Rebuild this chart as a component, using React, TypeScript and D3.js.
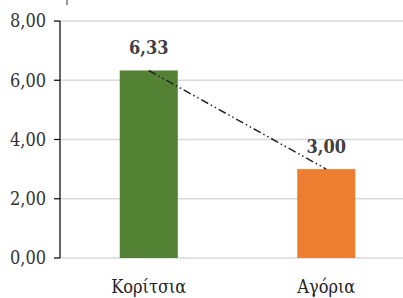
import React from 'react';
import * as d3 from 'd3';

const categories = ['Κορίτσια', 'Αγόρια'];
const values = [6.33, 3.0];
const barColors = ['#548235', '#ED7D31'];
const yTicks = [0, 2, 4, 6, 8];

const W = 403, H = 298;
const margin = { top: 21, left: 60, bottom: 40 };
const fmt = (v: number) => d3.format('.2f')(v).replace('.', ',');
const serif = { fontFamily: '"DejaVu Serif Condensed", "DejaVu Serif", serif', fontStretch: 'condensed' };

export default function App() {
  const x = d3.scaleBand<string>().domain(categories).range([margin.left, 415]).paddingInner(0.673).paddingOuter(0.3365);
  const y = d3.scaleLinear().domain([0, 8]).range([H - margin.bottom, margin.top]);
  const cx = (c: string) => (x(c) as number) + x.bandwidth() / 2;

  const line = d3.line<number>()
    .x((_, i) => cx(categories[i]))
    .y(d => y(d));

  return (
    <svg width={W} height={H} style={{ position: 'absolute', left: 0, top: 0, background: '#fff' }}>
      {yTicks.map(t => (
        <g key={t}>
          <line x1={margin.left} x2={W} y1={y(t)} y2={y(t)} stroke="#d9d9d9" strokeWidth={1.5} />
          <line x1={54} x2={margin.left} y1={y(t)} y2={y(t)} stroke="#000" strokeWidth={1.2} />
          <text x={46} y={y(t)} dy="0.36em" textAnchor="end" fontSize={18} fill="#333" style={serif}>{fmt(t)}</text>
        </g>
      ))}
      <line x1={margin.left} x2={margin.left} y1={y(8)} y2={y(0)} stroke="#000" strokeWidth={1.2} />
      <line x1={67} x2={67} y1={0} y2={5} stroke="#333" strokeWidth={1} />
      {categories.map((c, i) => (
        <g key={c}>
          <rect x={x(c)} y={y(values[i])} width={x.bandwidth()} height={y(0) - y(values[i])} fill={barColors[i]} />
          <text x={cx(c)} y={y(values[i]) - 16.5} textAnchor="middle" fontSize={18} fontWeight="bold" fill="#404040" style={serif}>{fmt(values[i])}</text>
          <text x={cx(c)} y={293} textAnchor="middle" fontSize={18} fill="#222" style={serif}>{c}</text>
        </g>
      ))}
      <path d={line(values) as string} fill="none" stroke="#222" strokeWidth={1.5} strokeDasharray="8 3 1.5 3 1.5 3" />
    </svg>
  );
}
